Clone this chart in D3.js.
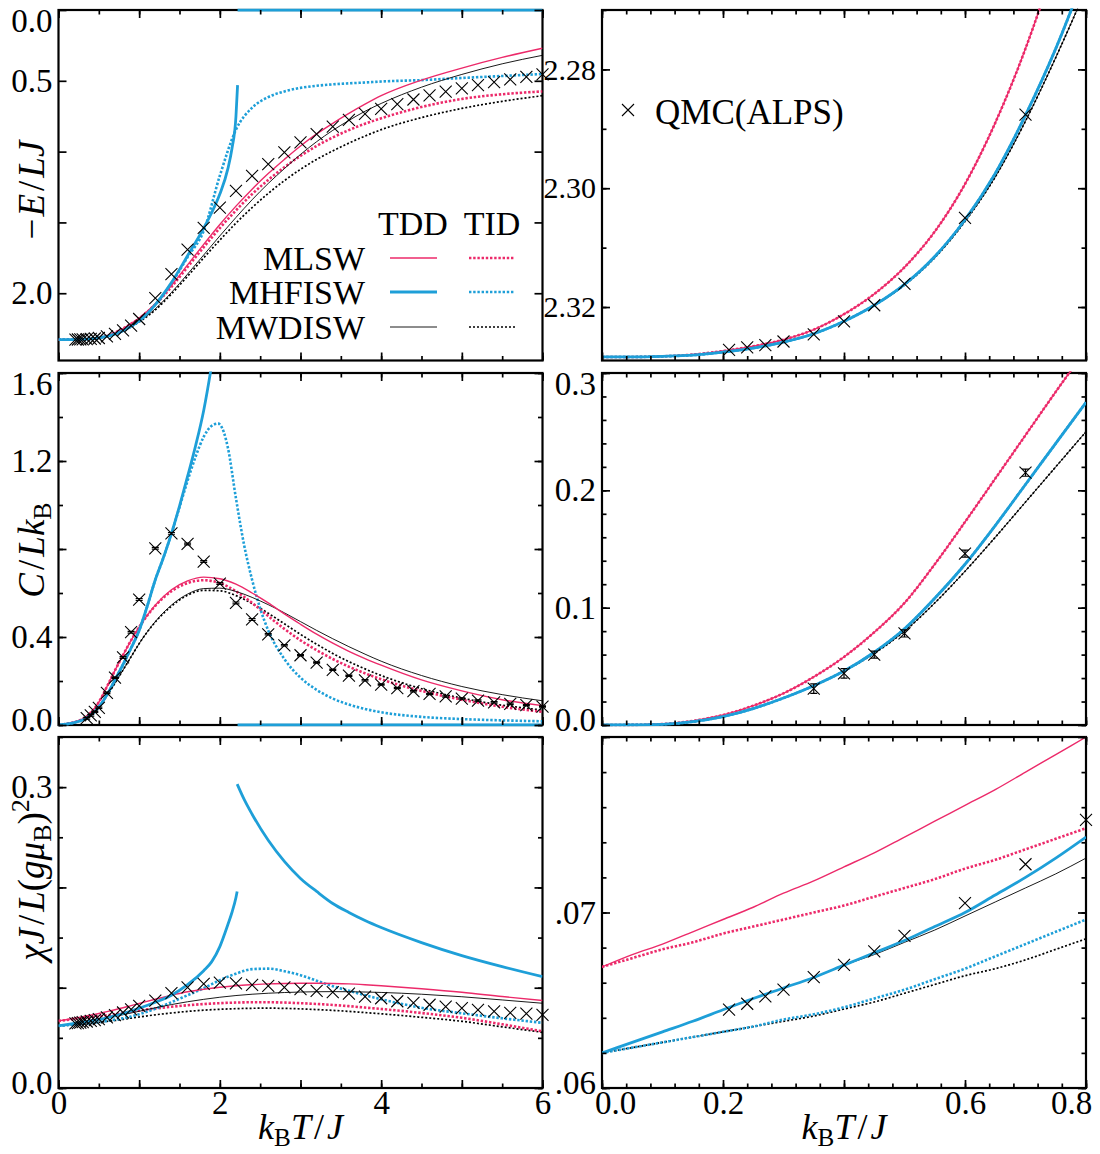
<!DOCTYPE html>
<html><head><meta charset="utf-8">
<script src="https://cdn.jsdelivr.net/npm/d3@7"></script>
<style>
body{margin:0;background:#fff}
svg text, svg tspan{font-family:"Liberation Serif","DejaVu Serif",serif;}
</style>
</head><body><svg id="c" width="1100" height="1154"></svg>
<script>
// ---------------- DATA ----------------
// QMC (ALPS) data
const qmcT = [0.21,0.24,0.27,0.30,0.35,0.40,0.45,0.50,0.60,0.70,0.80,0.90,1.0,1.2,1.4,1.6,1.8,2.0,2.2,2.4,2.6,2.8,3.0,3.2,3.4,3.6,3.8,4.0,4.2,4.4,4.6,4.8,5.0,5.2,5.4,5.6,5.8,6.0];
const qmcE = [2.3272,2.3268,2.3264,2.3258,2.3246,2.3224,2.3197,2.3161,2.3050,2.2876,2.262,2.228,2.182,2.035,1.865,1.692,1.538,1.396,1.278,1.172,1.089,1.006,0.935,0.876,0.824,0.776,0.734,0.698,0.664,0.632,0.603,0.577,0.553,0.531,0.510,0.490,0.472,0.455];
const qmcC = [null,null,null,null,0.031,0.044,0.060,0.078,0.146,0.215,0.307,0.422,0.570,0.803,0.871,0.823,0.743,0.643,0.555,0.480,0.412,0.362,0.317,0.284,0.251,0.224,0.203,0.184,0.168,0.154,0.141,0.130,0.120,0.111,0.103,0.096,0.090,0.084];
const qmcCerr = [null,null,null,null,0.004,0.004,0.003,0.003,0.003,0.003,0.004,0.004,0.004,0.004,0.004,0.004,0.004,0.004,0.004,0.004,0.003,0.003,0.003,0.003,0.003,0.003,0.003,0.003,0.003,0.003,0.003,0.003,0.003,0.003,0.003,0.003,0.003,0.003];
const qmcChi = [0.06446,0.0648,0.06522,0.0656,0.06632,0.06702,0.06778,0.06867,0.07053,0.07275,0.07528,0.0785,0.0818,0.0872,0.0945,0.1004,0.1038,0.1050,0.1044,0.1028,0.1018,0.1004,0.0985,0.0968,0.0955,0.0940,0.0912,0.0895,0.0865,0.0848,0.0830,0.0812,0.0796,0.0780,0.0765,0.0750,0.0742,0.0730];

// Left column (full temperature range) common grid
const tL = [0,0.3,0.5,0.6,0.7,0.8,0.9,1.0,1.2,1.4,1.6,1.8,2.0,2.2,2.4,2.6,2.8,3.0,3.2,3.4,3.6,3.8,4.0,4.5,5.0,5.5,6.0];

// -E/LJ
const E_MLSW_TDD   = [2.328,2.326,2.314,2.300,2.278,2.250,2.215,2.175,2.075,1.945,1.800,1.655,1.515,1.385,1.265,1.155,1.055,0.960,0.875,0.800,0.730,0.665,0.605,0.495,0.410,0.335,0.270];
const E_MLSW_TID   = [2.328,2.326,2.314,2.300,2.278,2.250,2.215,2.177,2.080,1.955,1.815,1.675,1.540,1.415,1.300,1.200,1.110,1.030,0.960,0.900,0.848,0.803,0.765,0.685,0.628,0.595,0.575];
const E_MWDISW_TDD = [2.328,2.326,2.316,2.305,2.2885,2.265,2.235,2.200,2.110,1.995,1.865,1.730,1.595,1.465,1.340,1.225,1.120,1.020,0.930,0.850,0.780,0.715,0.660,0.545,0.455,0.380,0.320];
const E_MWDISW_TID = [2.328,2.326,2.316,2.305,2.2885,2.265,2.237,2.203,2.118,2.005,1.880,1.750,1.625,1.505,1.395,1.295,1.205,1.125,1.055,0.995,0.940,0.890,0.845,0.760,0.695,0.645,0.605];
const tE_HF1 = [0,0.3,0.5,0.6,0.7,0.8,0.9,1.0,1.2,1.4,1.6,1.8,1.9,2.0,2.1,2.15,2.2,2.22];
const E_MHFISW_TDD1 = [2.328,2.326,2.315,2.305,2.288,2.265,2.234,2.196,2.080,1.925,1.735,1.540,1.430,1.300,1.120,0.980,0.750,0.530];
const tE_HF2 = [2.22,6.0];
const E_MHFISW_TDD2 = [0,0];
const E_MHFISW_TID = [2.328,2.326,2.315,2.305,2.288,2.265,2.234,2.196,2.082,1.930,1.745,1.560,1.170,0.845,0.690,0.615,0.575,0.550,0.535,0.525,0.518,0.512,0.505,0.495,0.480,0.466,0.452];

// C/Lk_B
const C_MLSW_TDD   = [0,0.028,0.104,0.174,0.248,0.318,0.385,0.445,0.545,0.615,0.655,0.672,0.665,0.640,0.600,0.555,0.505,0.458,0.413,0.372,0.335,0.302,0.272,0.205,0.155,0.115,0.088];
const C_MLSW_TID   = [0,0.028,0.104,0.174,0.248,0.318,0.385,0.445,0.542,0.608,0.645,0.658,0.645,0.608,0.555,0.495,0.437,0.385,0.340,0.300,0.265,0.235,0.208,0.155,0.115,0.083,0.060];
const C_MWDISW_TDD = [0,0.023,0.078,0.133,0.190,0.250,0.310,0.370,0.470,0.545,0.595,0.620,0.622,0.607,0.580,0.547,0.510,0.470,0.430,0.392,0.356,0.322,0.290,0.225,0.175,0.138,0.110];
const C_MWDISW_TID = [0,0.023,0.078,0.133,0.190,0.250,0.310,0.370,0.468,0.540,0.590,0.612,0.610,0.588,0.552,0.508,0.460,0.412,0.367,0.325,0.288,0.255,0.225,0.165,0.122,0.090,0.068];
const tC_HF1 = [0,0.3,0.5,0.6,0.7,0.8,0.9,1.0,1.1,1.2,1.3,1.4,1.5,1.6,1.7,1.8,1.9,1.95];
const C_MHFISW_TDD1 = [0,0.023,0.082,0.137,0.205,0.275,0.350,0.430,0.540,0.660,0.760,0.870,0.995,1.130,1.270,1.430,1.640,1.760];
const tC_HF2 = [2.22,6.0];
const C_MHFISW_TDD2 = [0,0];
const tC_HFd = [0,0.3,0.5,0.6,0.7,0.8,0.9,1.0,1.1,1.2,1.3,1.4,1.5,1.6,1.7,1.8,1.9,1.98,2.05,2.1,2.2,2.3,2.4,2.5,2.6,2.8,3.0,3.2,3.4,3.6,3.8,4.0,4.5,5.0,5.5,6.0];
const C_MHFISW_TID = [0,0.023,0.082,0.137,0.205,0.275,0.350,0.430,0.540,0.660,0.760,0.870,0.990,1.110,1.220,1.310,1.360,1.370,1.330,1.260,1.030,0.820,0.660,0.530,0.430,0.300,0.215,0.160,0.120,0.093,0.073,0.058,0.037,0.027,0.021,0.017];

// chi J / L (g mu_B)^2
const X_MLSW_TDD   = [0.0669,0.0711,0.0743,0.0761,0.0780,0.0800,0.0822,0.0843,0.0885,0.0925,0.0960,0.0985,0.1005,0.1020,0.1030,0.1038,0.1042,0.1044,0.1044,0.1042,0.1038,0.1030,0.1020,0.0990,0.0955,0.0912,0.0872];
const X_MLSW_TID   = [0.0669,0.0696,0.0714,0.0725,0.0736,0.0748,0.0760,0.0772,0.0793,0.0810,0.0825,0.0837,0.0846,0.0852,0.0855,0.0855,0.0852,0.0846,0.0838,0.0828,0.0816,0.0802,0.0788,0.0748,0.0700,0.0635,0.0565];
const X_MWDISW_TDD = [0.0620,0.0657,0.0683,0.0698,0.0714,0.0731,0.0748,0.0765,0.0800,0.0832,0.0860,0.0884,0.0905,0.0922,0.0935,0.0945,0.0952,0.0957,0.0960,0.0961,0.0960,0.0957,0.0953,0.0935,0.0910,0.0878,0.0845];
const X_MWDISW_TID = [0.0620,0.0638,0.0654,0.0664,0.0673,0.0685,0.0697,0.0708,0.0730,0.0748,0.0764,0.0776,0.0785,0.0791,0.0795,0.0796,0.0794,0.0789,0.0782,0.0774,0.0764,0.0752,0.0740,0.0705,0.0665,0.0610,0.0555];
const X_MHFISW_TID = [0.0620,0.0639,0.0656,0.0668,0.0682,0.0696,0.0712,0.0735,0.0790,0.0855,0.0925,0.0995,0.1075,0.1140,0.1185,0.1190,0.1165,0.1125,0.1070,0.1015,0.0970,0.0925,0.0885,0.0800,0.0745,0.0695,0.0650];
const tX_HF1 = [0,0.3,0.5,0.6,0.7,0.8,0.9,1.0,1.2,1.4,1.6,1.8,1.9,2.0,2.1,2.15,2.2,2.215];
const X_MHFISW_TDD1 = [0.0620,0.0657,0.0684,0.0700,0.0720,0.0743,0.0768,0.0795,0.0855,0.0925,0.1030,0.1170,0.1260,0.1410,0.1630,0.1750,0.1900,0.1960];
const tX_HF2 = [2.215,2.3,2.4,2.6,2.8,3.0,3.2,3.4,3.6,3.8,4.0,4.5,5.0,5.5,6.0];
const X_MHFISW_TDD2 = [0.303,0.288,0.273,0.247,0.226,0.209,0.196,0.184,0.175,0.167,0.160,0.145,0.132,0.121,0.111];

// Right column (low temperature zoom)
const tR = [0,0.05,0.1,0.15,0.2,0.25,0.3,0.35,0.4,0.45,0.5,0.55,0.6,0.65,0.7,0.75,0.8];
const ER_MLSW   = [2.3284,2.3284,2.3283,2.3280,2.3274,2.3266,2.3255,2.3238,2.3212,2.3178,2.3133,2.3073,2.2993,2.2890,2.2765,2.2615,2.2440];
const ER_MHFISW = [2.3284,2.3284,2.3283,2.3281,2.3276,2.3269,2.3259,2.3245,2.3224,2.3197,2.3162,2.3115,2.3053,2.2975,2.2877,2.2765,2.2635];
const ER_MWDISW = [2.3284,2.3284,2.3283,2.3281,2.3276,2.3269,2.3259,2.3245,2.3224,2.3197,2.3163,2.3117,2.3056,2.2981,2.2887,2.2780,2.2665];
const CR_MLSW   = [0,0.0001,0.0008,0.0035,0.0085,0.0165,0.0270,0.0410,0.0580,0.0790,0.1040,0.1370,0.1730,0.2100,0.2470,0.2840,0.3200];
const CR_MHFISW = [0,0.0001,0.0006,0.0028,0.0072,0.0140,0.0230,0.0335,0.0460,0.0620,0.0820,0.1080,0.1370,0.1700,0.2050,0.2400,0.2750];
const CR_MWDISW = [0,0.0001,0.0006,0.0028,0.0072,0.0140,0.0230,0.0335,0.0460,0.0610,0.0800,0.1040,0.1310,0.1600,0.1900,0.2200,0.2500];
const XR_MLSW_TDD   = [0.0669,0.0676,0.0682,0.0689,0.0696,0.0703,0.0711,0.0718,0.0726,0.0734,0.0743,0.0752,0.0761,0.0770,0.0780,0.0790,0.0800];
const XR_MLSW_TID   = [0.0669,0.0674,0.0679,0.0683,0.0688,0.0692,0.0696,0.0700,0.0704,0.0709,0.0714,0.0719,0.0725,0.0730,0.0736,0.0742,0.0748];
const XR_MHFISW_TDD = [0.0620,0.0626,0.0632,0.0638,0.06446,0.0651,0.0657,0.0663,0.0670,0.0677,0.0684,0.0692,0.0700,0.0710,0.0720,0.0731,0.0743];
const XR_MHFISW_TID = [0.0620,0.0623,0.0626,0.0629,0.0632,0.0635,0.0639,0.0642,0.0646,0.0651,0.0656,0.0662,0.0668,0.0675,0.0682,0.0689,0.0696];
const XR_MWDISW_TDD = [0.0620,0.0626,0.0632,0.0638,0.06446,0.0651,0.0657,0.0663,0.0670,0.0676,0.0683,0.0690,0.0698,0.0706,0.0714,0.0722,0.0731];
const XR_MWDISW_TID = [0.0620,0.0623,0.0626,0.0629,0.0632,0.0635,0.0638,0.0641,0.0645,0.0649,0.0654,0.0659,0.0664,0.0668,0.0673,0.0679,0.0685];

// Tick labels
const xLabelsLeft  = [[0,"0"],[2,"2"],[4,"4"],[6,"6"]];
const xLabelsRight = [[0,"0.0"],[0.2,"0.2"],[0.6,"0.6"],[0.8,"0.8"]];
const yLabelsE   = [[0,"0.0"],[0.5,"0.5"],[2.0,"2.0"]];
const yLabelsER  = [[2.28,"2.28"],[2.30,"2.30"],[2.32,"2.32"]];
const yLabelsC   = [[0,"0.0"],[0.4,"0.4"],[1.2,"1.2"],[1.6,"1.6"]];
const yLabelsCR  = [[0,"0.0"],[0.1,"0.1"],[0.2,"0.2"],[0.3,"0.3"]];
const yLabelsX   = [[0,"0.0"],[0.3,"0.3"]];
const yLabelsXR  = [[0.06,".06"],[0.07,".07"]];
const legendNames = ["MLSW","MHFISW","MWDISW"];

// ---------------- DRAWING ----------------
const FONT = "Liberation Serif";
const PINK = "#EC2A6A", BLUE = "#1E9FD8";
const STY = {
  MLSW_TDD:   {c: PINK,  w: 1.4},
  MLSW_TID:   {c: PINK,  w: 2.6, d: "2.4,1.8"},
  MHFISW_TDD: {c: BLUE,  w: 2.8},
  MHFISW_TID: {c: BLUE,  w: 2.6, d: "2.4,1.8"},
  MWDISW_TDD: {c: "#000", w: 0.9},
  MWDISW_TID: {c: "#000", w: 1.7, d: "2,2"}
};
const svg = d3.select("#c");
svg.append("rect").attr("width",1100).attr("height",1154).attr("fill","#fff");
let cid = 0;
const seq = (a,b,s) => d3.range(0, Math.round((b-a)/s)+1).map(i => +(a+i*s).toFixed(6));

function panel(o) {
  const g = svg.append("g");
  const x = d3.scaleLinear().domain(o.xd).range([o.x0, o.x1]);
  const y = d3.scaleLinear().domain(o.yd).range(o.flip ? [o.y0, o.y1] : [o.y1, o.y0]);
  g.append("rect").attr("x", o.x0).attr("y", o.y0).attr("width", o.x1 - o.x0).attr("height", o.y1 - o.y0)
    .attr("fill", "none").attr("stroke", "#000").attr("stroke-width", 2.2);
  const id = "clip" + (++cid);
  svg.append("clipPath").attr("id", id).append("rect")
    .attr("x", o.x0).attr("y", o.y0 - 1.6).attr("width", o.x1 - o.x0).attr("height", o.y1 - o.y0 + 3.2);
  const lg = g.append("g").attr("clip-path", `url(#${id})`);
  const line = d3.line().x(d => x(d[0])).y(d => y(d[1])).curve(d3.curveMonotoneX);
  o.series.forEach(s => {
    const st = STY[s.k];
    lg.append("path").attr("d", line(s.t.map((t, i) => [t, s.v[i]])))
      .attr("fill", "none").attr("stroke", st.c).attr("stroke-width", st.w)
      .attr("stroke-dasharray", st.d || null);
  });
  const tk = (fn, sc, vals, len, tr) => {
    const a = g.append("g").attr("transform", tr).call(fn(sc).tickValues(vals).tickSize(-len).tickFormat(""));
    a.select(".domain").remove();
    a.selectAll("line").attr("stroke", "#000").attr("stroke-width", 1.7);
  };
  [[o.xMin, 4.5], [o.xMaj, 8]].forEach(([vals, len]) => {
    tk(d3.axisBottom, x, vals, len, `translate(0,${o.y1})`);
    tk(d3.axisTop, x, vals, len, `translate(0,${o.y0})`);
  });
  [[o.yMin, 4.5], [o.yMaj, 8]].forEach(([vals, len]) => {
    tk(d3.axisLeft, y, vals, len, `translate(${o.x0},0)`);
    tk(d3.axisRight, y, vals, len, `translate(${o.x1},0)`);
  });
  const [xa, xb] = o.xd, [ya, yb] = [Math.min(...o.yd), Math.max(...o.yd)];
  const pts = qmcT.map((t, i) => ({t, v: o.q[i], e: o.qe ? o.qe[i] : null}))
    .filter(p => p.v != null && p.t >= xa - 1e-9 && p.t <= xb + 1e-9 && p.v >= ya && p.v <= yb);
  const mg = g.append("g");
  pts.forEach(p => {
    const px = x(p.t), py = y(p.v);
    if (p.e) {
      const y1 = y(p.v - p.e), y2 = y(p.v + p.e);
      mg.append("path").attr("d", `M${px},${y1}L${px},${y2}M${px-3.5},${y1}L${px+3.5},${y1}M${px-3.5},${y2}L${px+3.5},${y2}`)
        .attr("stroke", "#000").attr("stroke-width", 1.2).attr("fill", "none");
    }
    mg.append("path").attr("d", `M${px-6},${py-6}L${px+6},${py+6}M${px-6},${py+6}L${px+6},${py-6}`)
      .attr("stroke", "#000").attr("stroke-width", 1.1).attr("fill", "none");
  });
  const ya2 = g.append("g").attr("transform", `translate(${o.x0},0)`)
    .call(d3.axisLeft(y).tickValues(o.yl.map(d => d[0])).tickFormat((d, i) => o.yl[i][1]).tickSize(0).tickPadding(6));
  ya2.select(".domain").remove();
  ya2.attr("font-family", FONT).attr("font-size", o.yfs || 33);
  ya2.selectAll("text").attr("fill", "#000");
  ya2.selectAll(".tick").each(function(d) {
    const yy = y(d);
    if (yy - o.y0 < 11) d3.select(this).select("text").attr("y", o.y0 + 11 - yy);
    else if (o.y1 - yy < 5) d3.select(this).select("text").attr("y", -5);
  });
  if (o.xl) {
    const xa2 = g.append("g").attr("transform", `translate(0,${o.y1})`)
      .call(d3.axisBottom(x).tickValues(o.xl.map(d => d[0])).tickFormat((d, i) => o.xl[i][1]).tickSize(0).tickPadding(3));
    xa2.select(".domain").remove();
    xa2.attr("font-family", FONT).attr("font-size", 33);
    xa2.selectAll("text").attr("fill", "#000");
    if (o.xEdgeShift) {
      const n = o.xl.length;
      xa2.selectAll(".tick text").attr("dx", (d, i) => i === 0 ? 13 : (i === n - 1 ? -15 : 0));
    }
  }
  return {g, x, y};
}

const L = [58.5, 542.5], R = [602, 1086];
const ROWS = [[10, 360.5], [373, 725], [737, 1088]];
const xMinL = seq(0, 6, 0.5), xMajL = seq(0, 6, 1);
const xMinR = seq(0, 0.8, 0.04), xMajR = seq(0, 0.8, 0.2);

panel({x0: L[0], x1: L[1], y0: ROWS[0][0], y1: ROWS[0][1], xd: [0, 6], yd: [0, 2.475], flip: true,
  xMin: xMinL, xMaj: xMajL, yMin: [], yMaj: seq(0, 2.0, 0.5), yl: yLabelsE, q: qmcE,
  series: [
    {k: "MWDISW_TID", t: tL, v: E_MWDISW_TID},
    {k: "MLSW_TID", t: tL, v: E_MLSW_TID},
    {k: "MHFISW_TID", t: tL, v: E_MHFISW_TID},
    {k: "MWDISW_TDD", t: tL, v: E_MWDISW_TDD},
    {k: "MLSW_TDD", t: tL, v: E_MLSW_TDD},
    {k: "MHFISW_TDD", t: tE_HF1, v: E_MHFISW_TDD1},
    {k: "MHFISW_TDD", t: tE_HF2, v: E_MHFISW_TDD2}
  ]});
panel({x0: R[0], x1: R[1], y0: ROWS[0][0], y1: ROWS[0][1], xd: [0, 0.8], yd: [2.27, 2.329], flip: true,
  xMin: xMinR, xMaj: xMajR, yMin: seq(2.27, 2.32, 0.01), yMaj: [2.28, 2.30, 2.32], yl: yLabelsER, yfs: 30, q: qmcE,
  series: [
    {k: "MWDISW_TDD", t: tR, v: ER_MWDISW}, {k: "MWDISW_TID", t: tR, v: ER_MWDISW},
    {k: "MLSW_TDD", t: tR, v: ER_MLSW}, {k: "MLSW_TID", t: tR, v: ER_MLSW},
    {k: "MHFISW_TDD", t: tR, v: ER_MHFISW}, {k: "MHFISW_TID", t: tR, v: ER_MHFISW}
  ]});
panel({x0: L[0], x1: L[1], y0: ROWS[1][0], y1: ROWS[1][1], xd: [0, 6], yd: [0, 1.6],
  xMin: xMinL, xMaj: xMajL, yMin: seq(0, 1.6, 0.2), yMaj: seq(0, 1.6, 0.4), yl: yLabelsC, q: qmcC, qe: qmcCerr,
  series: [
    {k: "MWDISW_TID", t: tL, v: C_MWDISW_TID},
    {k: "MLSW_TID", t: tL, v: C_MLSW_TID},
    {k: "MHFISW_TID", t: tC_HFd, v: C_MHFISW_TID},
    {k: "MWDISW_TDD", t: tL, v: C_MWDISW_TDD},
    {k: "MLSW_TDD", t: tL, v: C_MLSW_TDD},
    {k: "MHFISW_TDD", t: tC_HF1, v: C_MHFISW_TDD1},
    {k: "MHFISW_TDD", t: tC_HF2, v: C_MHFISW_TDD2}
  ]});
panel({x0: R[0], x1: R[1], y0: ROWS[1][0], y1: ROWS[1][1], xd: [0, 0.8], yd: [0, 0.3],
  xMin: xMinR, xMaj: xMajR, yMin: seq(0, 0.3, 0.02), yMaj: seq(0, 0.3, 0.1), yl: yLabelsCR, q: qmcC, qe: qmcCerr,
  series: [
    {k: "MWDISW_TDD", t: tR, v: CR_MWDISW}, {k: "MWDISW_TID", t: tR, v: CR_MWDISW},
    {k: "MLSW_TDD", t: tR, v: CR_MLSW}, {k: "MLSW_TID", t: tR, v: CR_MLSW},
    {k: "MHFISW_TDD", t: tR, v: CR_MHFISW}, {k: "MHFISW_TID", t: tR, v: CR_MHFISW}
  ]});
panel({x0: L[0], x1: L[1], y0: ROWS[2][0], y1: ROWS[2][1], xd: [0, 6], yd: [0, 0.35],
  xMin: xMinL, xMaj: xMajL, yMin: seq(0, 0.35, 0.05), yMaj: seq(0, 0.3, 0.1), yl: yLabelsX, q: qmcChi, xl: xLabelsLeft,
  series: [
    {k: "MWDISW_TID", t: tL, v: X_MWDISW_TID},
    {k: "MLSW_TID", t: tL, v: X_MLSW_TID},
    {k: "MHFISW_TID", t: tL, v: X_MHFISW_TID},
    {k: "MWDISW_TDD", t: tL, v: X_MWDISW_TDD},
    {k: "MLSW_TDD", t: tL, v: X_MLSW_TDD},
    {k: "MHFISW_TDD", t: tX_HF1, v: X_MHFISW_TDD1},
    {k: "MHFISW_TDD", t: tX_HF2, v: X_MHFISW_TDD2}
  ]});
panel({x0: R[0], x1: R[1], y0: ROWS[2][0], y1: ROWS[2][1], xd: [0, 0.8], yd: [0.06, 0.08],
  xMin: xMinR, xMaj: xMajR, yMin: seq(0.06, 0.08, 0.002), yMaj: seq(0.06, 0.08, 0.01), yl: yLabelsXR, q: qmcChi,
  xl: xLabelsRight, xEdgeShift: true,
  series: [
    {k: "MWDISW_TID", t: tR, v: XR_MWDISW_TID},
    {k: "MLSW_TID", t: tR, v: XR_MLSW_TID},
    {k: "MHFISW_TID", t: tR, v: XR_MHFISW_TID},
    {k: "MWDISW_TDD", t: tR, v: XR_MWDISW_TDD},
    {k: "MLSW_TDD", t: tR, v: XR_MLSW_TDD},
    {k: "MHFISW_TDD", t: tR, v: XR_MHFISW_TDD}
  ]});

// ---------------- TEXT ----------------
function rich(sel, parts, fs) {
  let shift = 0;
  parts.forEach(p => {
    const target = p.sub ? fs * 0.2 : (p.sup ? -fs * 0.4 : 0);
    const ts = sel.append("tspan").text(p.t)
      .attr("font-style", p.it ? "italic" : "normal")
      .attr("font-size", (p.sub || p.sup) ? fs * 0.7 : fs)
      .attr("dy", target - shift);
    if (p.dx) ts.attr("dx", p.dx);
    shift = target;
  });
}
const title = (x, y, rot, parts, fs) => {
  const t = svg.append("text").attr("font-family", FONT).attr("fill", "#000").attr("text-anchor", "middle")
    .attr("transform", `translate(${x},${y}) rotate(${rot})`);
  rich(t, parts, fs);
};
title(44, 190, -90, [{t: "\u2212"}, {t: "E", it: 1, dx: 2}, {t: "/", dx: 3}, {t: "LJ", it: 1, dx: 3}], 37);
title(44, 550, -90, [{t: "C", it: 1}, {t: "/", dx: 3}, {t: "Lk", it: 1, dx: 3}, {t: "B", sub: 1}], 37);
title(44, 880, -90, [{t: "\u03c7J", it: 1}, {t: "/", dx: 3}, {t: "L", it: 1, dx: 3}, {t: "("}, {t: "g\u03bc", it: 1}, {t: "B", sub: 1}, {t: ")"}, {t: "2", sup: 1}], 37);
title((L[0] + L[1]) / 2, 1139, 0, [{t: "k", it: 1}, {t: "B", sub: 1}, {t: "T", it: 1}, {t: "/", dx: 3}, {t: "J", it: 1, dx: 3}], 36);
title((R[0] + R[1]) / 2, 1139, 0, [{t: "k", it: 1}, {t: "B", sub: 1}, {t: "T", it: 1}, {t: "/", dx: 3}, {t: "J", it: 1, dx: 3}], 36);

const leg = svg.append("g").attr("font-family", FONT).attr("font-size", 34).attr("fill", "#000");
leg.append("text").attr("x", 413).attr("y", 235).attr("text-anchor", "middle").text("TDD");
leg.append("text").attr("x", 492).attr("y", 235).attr("text-anchor", "middle").text("TID");
legendNames.forEach((nm, i) => {
  const by = [270, 304, 339][i];
  leg.append("text").attr("x", 365).attr("y", by).attr("text-anchor", "end").text(nm);
  ["TDD", "TID"].forEach((kind, j) => {
    const st = STY[nm + "_" + kind];
    const xs = j === 0 ? [390, 437] : [469, 515];
    leg.append("line").attr("x1", xs[0]).attr("x2", xs[1]).attr("y1", by - 12).attr("y2", by - 12)
      .attr("stroke", st.c).attr("stroke-width", st.w).attr("stroke-dasharray", st.d || null);
  });
});
svg.append("path").attr("d", "M622,104L634,116M622,116L634,104").attr("stroke", "#000").attr("stroke-width", 1.1);
svg.append("text").attr("x", 655).attr("y", 124).attr("font-family", FONT).attr("font-size", 35).attr("fill", "#000").text("QMC(ALPS)");
</script></body></html>
